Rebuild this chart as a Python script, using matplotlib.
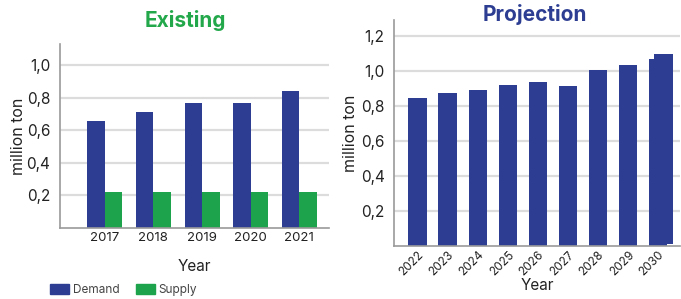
import matplotlib.pyplot as plt
import numpy as np
from matplotlib.patches import Patch

plt.rcParams['font.family'] = ['Inter', 'DejaVu Sans']

# existing
years_ex = ['2017', '2018', '2019', '2020', '2021']
demand = [0.655, 0.71, 0.765, 0.77, 0.84]
supply = [0.22, 0.22, 0.22, 0.22, 0.22]

# projection
years_pr = ['2022', '2023', '2024', '2025', '2026', '2027', '2028', '2029', '2030']
projection = [0.845, 0.874, 0.89, 0.92, 0.938, 0.913, 1.004, 1.033, 1.07]
# the 2030 bar in the source has a second, slightly shifted copy on top
revised_2030 = 1.088

blue = '#2C3D92'
green = '#1CA34B'
grid_c = '#dcdcdc'
spine_c = '#9a9a9a'
text_c = '#222222'


def fmt(v):
    return f'{v:.1f}'.replace('.', ',')


def style(ax, ticks):
    for s in ['top', 'right']:
        ax.spines[s].set_visible(False)
    for s in ['left', 'bottom']:
        ax.spines[s].set_color(spine_c)
        ax.spines[s].set_linewidth(1.2)
    ax.set_yticks(ticks)
    ax.set_yticklabels([fmt(t) for t in ticks], fontsize=11, color=text_c)
    ax.yaxis.grid(True, color=grid_c, linewidth=1.6)
    ax.set_axisbelow(True)
    ax.tick_params(axis='both', length=0)
    ax.tick_params(axis='y', pad=7)


fig = plt.figure(figsize=(6.81, 2.99), dpi=100)

ax1 = fig.add_axes([0.0881, 0.2375, 0.395, 0.615])
x = np.arange(len(years_ex))
w = 0.36
ax1.bar(x - w / 2, demand, w, color=blue)
ax1.bar(x + w / 2, supply, w, color=green)
ax1.set_xlim(-0.92, 4.61)
ax1.set_ylim(0, 1.13)
style(ax1, [0.2, 0.4, 0.6, 0.8, 1.0])
ax1.set_xticks(x)
ax1.set_xticklabels(years_ex, fontsize=9.5, color=text_c)
ax1.tick_params(axis='x', pad=3)
ax1.set_ylabel('million ton', fontsize=11.5, color=text_c, labelpad=0)
ax1.set_xlabel('Year', fontsize=11, color=text_c, labelpad=11)
fig.text(0.272, 0.93, 'Existing', ha='center', va='center', fontsize=15,
         fontweight='bold', color='#22A84A')

fig.legend(handles=[Patch(color=blue, label='Demand'), Patch(color=green, label='Supply')],
           loc='center left', bbox_to_anchor=(0.058, 0.03), ncol=2, frameon=False,
           fontsize=8.5, handlelength=1.6, handleheight=0.9, columnspacing=1.4,
           handletextpad=0.3, labelcolor='#444444')

ax2 = fig.add_axes([0.579, 0.177, 0.42, 0.756])
xp = np.arange(len(years_pr))
wp = 0.62
ax2.bar(xp, projection, wp, color=blue)
ax2.bar(xp[-1] + 0.19, revised_2030, wp, bottom=0.01, color=blue)
ax2.set_xlim(-0.78, 8.74)
ax2.set_ylim(0, 1.29)
style(ax2, [0.2, 0.4, 0.6, 0.8, 1.0, 1.2])
ax2.set_xticks(xp)
ax2.set_xticklabels(years_pr, fontsize=8.5, color=text_c, rotation=45,
                    ha='right', rotation_mode='anchor')
ax2.tick_params(axis='x', pad=2)
ax2.set_ylabel('million ton', fontsize=11.5, color=text_c, labelpad=2)
ax2.set_xlabel('Year', fontsize=11, color=text_c, labelpad=0)
fig.text(0.786, 0.95, 'Projection', ha='center', va='center', fontsize=15,
         fontweight='bold', color=blue)

fig.savefig('out.png', dpi=100)
